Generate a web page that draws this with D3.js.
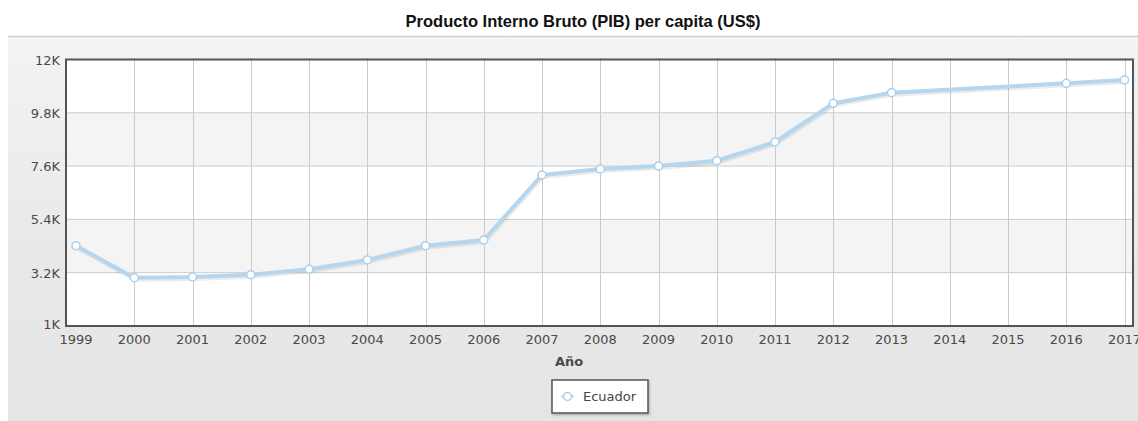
<!DOCTYPE html>
<html>
<head>
<meta charset="utf-8">
<script src="https://cdn.jsdelivr.net/npm/d3@7"></script>
<style>
  body { margin: 0; background: #fff; }
  svg { display: block; }
</style>
</head>
<body>
<script>
const years = [1999, 2000, 2001, 2002, 2003, 2004, 2005, 2006, 2007, 2008,
               2009, 2010, 2011, 2012, 2013, 2014, 2015, 2016, 2017];
// 2014 and 2015 have no marker in the picture, the line just joins 2013 to 2016
const ecuador = [4314, 2994, 3022, 3117, 3340, 3724, 4314, 4550, 7233, 7480,
                 7604, 7823, 8595, 10192, 10630, null, null, 11017, 11154];
const yTicks = [1000, 3200, 5400, 7600, 9800, 12000];
const yTickLabels = ["1K", "3.2K", "5.4K", "7.6K", "9.8K", "12K"];

const width = 1138, height = 421;
const plot = {left: 66, top: 59.5, right: 1133, bottom: 326};
const labelFont = "DejaVu Sans, Verdana, sans-serif";

const svg = d3.select("body").append("svg")
    .attr("width", width)
    .attr("height", height);

const defs = svg.append("defs");
const grad = defs.append("linearGradient")
    .attr("id", "panelGrad")
    .attr("x1", 0).attr("y1", 0).attr("x2", 0).attr("y2", 1);
grad.append("stop").attr("offset", "0%").attr("stop-color", "#f3f3f3");
grad.append("stop").attr("offset", "60%").attr("stop-color", "#e8e8e8");
grad.append("stop").attr("offset", "100%").attr("stop-color", "#e5e5e5");

const shadow = defs.append("filter").attr("id", "shadow")
    .attr("x", "-10%").attr("y", "-10%").attr("width", "120%").attr("height", "140%");
shadow.append("feDropShadow")
    .attr("dx", 1).attr("dy", 1.5).attr("stdDeviation", 1)
    .attr("flood-color", "#000").attr("flood-opacity", 0.25);

// title
svg.append("text")
    .attr("x", 583).attr("y", 27)
    .attr("text-anchor", "middle")
    .style("font-family", "Liberation Sans, Arial, sans-serif")
    .style("font-weight", "bold")
    .style("font-size", "16.5px")
    .style("fill", "#111")
    .text("Producto Interno Bruto (PIB) per capita (US$)");

// grey panel
svg.append("rect")
    .attr("x", 8).attr("y", 36)
    .attr("width", width - 8).attr("height", height - 36)
    .style("fill", "url(#panelGrad)");
svg.append("line")
    .attr("x1", 8).attr("x2", width)
    .attr("y1", 36.5).attr("y2", 36.5)
    .style("stroke", "#cfcfcf")
    .style("stroke-width", 1.5);

const x = d3.scalePoint()
    .domain(years)
    .range([76, 1124.5]);

const y = d3.scaleLinear()
    .domain([1000, 12000])
    .range([plot.bottom, plot.top]);

// plot background with alternating bands
svg.append("rect")
    .attr("x", plot.left).attr("y", plot.top)
    .attr("width", plot.right - plot.left).attr("height", plot.bottom - plot.top)
    .style("fill", "#fff");

svg.append("g").selectAll("rect")
    .data(d3.pairs(yTicks).filter((d, i) => i % 2 === 1))
    .join("rect")
    .attr("x", plot.left)
    .attr("width", plot.right - plot.left)
    .attr("y", d => y(d[1]))
    .attr("height", d => y(d[0]) - y(d[1]))
    .style("fill", "#f4f4f4");

// grid
svg.append("g").selectAll("line")
    .data(yTicks)
    .join("line")
    .attr("x1", plot.left).attr("x2", plot.right)
    .attr("y1", d => y(d)).attr("y2", d => y(d))
    .style("stroke", "#cbcbcb");

svg.append("g").selectAll("line")
    .data(years.slice(1))
    .join("line")
    .attr("x1", d => Math.round(x(d)) + 0.5).attr("x2", d => Math.round(x(d)) + 0.5)
    .attr("y1", plot.top).attr("y2", plot.bottom)
    .style("stroke", "#cbcbcb");

// border
svg.append("rect")
    .attr("x", plot.left).attr("y", plot.top)
    .attr("width", plot.right - plot.left).attr("height", plot.bottom - plot.top)
    .style("fill", "none")
    .style("stroke", "#555")
    .style("stroke-width", 2);

// y labels
svg.append("g").selectAll("text")
    .data(yTicks)
    .join("text")
    .attr("x", 60)
    .attr("y", (d, i) => y(d) + (i === 0 ? 3 : 5))
    .attr("text-anchor", "end")
    .style("font-family", labelFont)
    .style("font-size", "13px")
    .style("fill", "#4a4a4a")
    .text((d, i) => yTickLabels[i]);

// x labels
svg.append("g").selectAll("text")
    .data(years)
    .join("text")
    .attr("x", d => x(d))
    .attr("y", 344)
    .attr("text-anchor", "middle")
    .style("font-family", labelFont)
    .style("font-size", "13px")
    .style("fill", "#4a4a4a")
    .text(d => d);

svg.append("text")
    .attr("x", 569).attr("y", 366)
    .attr("text-anchor", "middle")
    .style("font-family", labelFont)
    .style("font-size", "13px")
    .style("font-weight", "bold")
    .style("fill", "#4a4a4a")
    .text("Año");

// series
const points = years.map((yr, i) => ({year: yr, value: ecuador[i]}))
    .filter(d => d.value !== null);

const lineFn = d3.line()
    .x(d => x(d.year))
    .y(d => y(d.value));

svg.append("path")
    .attr("d", lineFn(points))
    .attr("transform", "translate(1,2)")
    .style("fill", "none")
    .style("stroke", "rgba(0,0,0,0.08)")
    .style("stroke-width", 4)
    .style("stroke-linejoin", "round");

svg.append("path")
    .attr("d", lineFn(points))
    .style("fill", "none")
    .style("stroke", "#b5d6ef")
    .style("stroke-width", 4)
    .style("stroke-linejoin", "round");

svg.append("g").selectAll("circle")
    .data(points)
    .join("circle")
    .attr("cx", d => x(d.year))
    .attr("cy", d => y(d.value))
    .attr("r", 4)
    .style("fill", "#fff")
    .style("stroke", "#a9d0ee")
    .style("stroke-width", 1.5);

// legend
const legend = svg.append("g").attr("transform", "translate(552,380)");
legend.append("rect")
    .attr("width", 96).attr("height", 33)
    .style("fill", "#fff")
    .style("stroke", "#555")
    .style("stroke-width", 1.5)
    .attr("filter", "url(#shadow)");
legend.append("line")
    .attr("x1", 9).attr("x2", 22)
    .attr("y1", 16.5).attr("y2", 16.5)
    .style("stroke", "#cfe4f5")
    .style("stroke-width", 3);
legend.append("circle")
    .attr("cx", 15.5).attr("cy", 16.5).attr("r", 4)
    .style("fill", "#fff")
    .style("stroke", "#a9d0ee")
    .style("stroke-width", 1.5);
legend.append("text")
    .attr("x", 31).attr("y", 21)
    .style("font-family", labelFont)
    .style("font-size", "13px")
    .style("fill", "#444")
    .text("Ecuador");
</script>
</body>
</html>
